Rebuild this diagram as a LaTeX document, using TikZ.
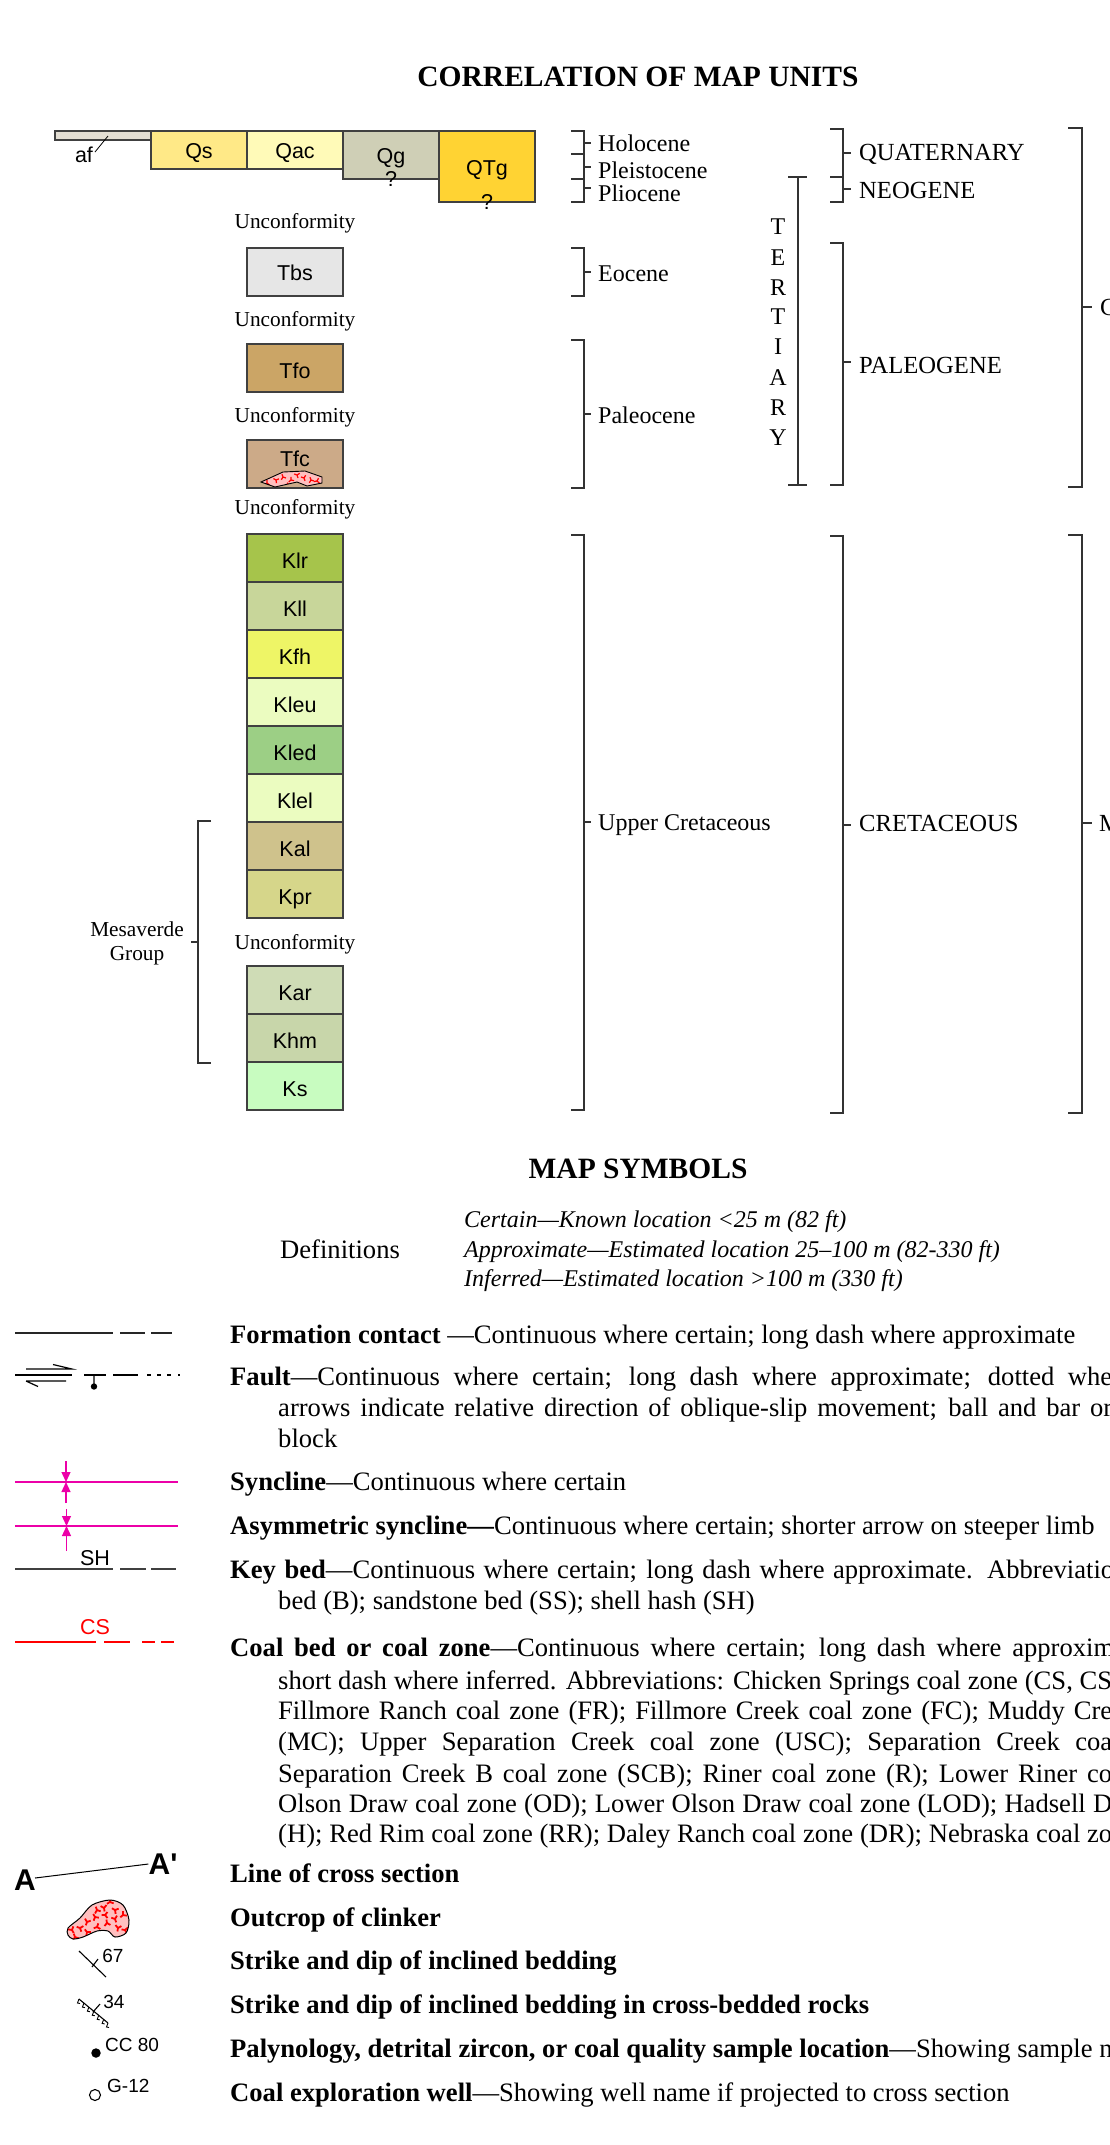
\documentclass[tikz,border=0pt]{standalone}
\usepackage{fontspec}
\setmainfont{Liberation Serif}
\newfontfamily\arialfont{Liberation Sans}
\usetikzlibrary{arrows.meta,calc}
\definecolor{af}{HTML}{E3DED3}
\definecolor{Qs}{HTML}{FFE987}
\definecolor{Qac}{HTML}{FFFAB8}
\definecolor{Qg}{HTML}{CFCFB6}
\definecolor{QTg}{HTML}{FFD333}
\definecolor{Tbs}{HTML}{E6E6E6}
\definecolor{Tfo}{HTML}{CBA566}
\definecolor{Tfc}{HTML}{CCAA88}
\definecolor{Klr}{HTML}{A6C44B}
\definecolor{Kll}{HTML}{C8D69A}
\definecolor{Kfh}{HTML}{EEF566}
\definecolor{Kleu}{HTML}{EBFCC0}
\definecolor{Kled}{HTML}{9CCF85}
\definecolor{Klel}{HTML}{EBFCC0}
\definecolor{Kal}{HTML}{CFC28C}
\definecolor{Kpr}{HTML}{D6D68A}
\definecolor{Kar}{HTML}{CFDCB6}
\definecolor{Khm}{HTML}{C8D6AA}
\definecolor{Ks}{HTML}{C8FCC0}
\definecolor{foldpink}{HTML}{EC00A8}
\definecolor{clinkerpink}{HTML}{FFBFBF}
\newcommand{\fitline}[2]{\makebox[#1pt][s]{#2}}
\tikzset{
  unitbox/.style={draw=black!75,line width=1.1pt,minimum width=96pt,inner sep=0pt,text height=20pt,text depth=0pt,font=\arialfont\fontsize{21.5}{24}\selectfont},
  toprow/.style={unitbox,text height=17pt},
  unitlabel/.style={inner sep=0pt,font=\arialfont\fontsize{21.5}{24}\selectfont},
  maplabel/.style={inner sep=0pt,anchor=west,font=\arialfont\fontsize{19}{21}\selectfont},
  serifsmall/.style={inner sep=0pt,font=\fontsize{21.3}{24}\selectfont},
  agetext/.style={inner sep=0pt,anchor=mid west,yshift=-6.5pt,font=\fontsize{24}{28}\selectfont},
  periodtext/.style={agetext,font=\fontsize{24.6}{28}\selectfont},
  maintitle/.style={inner sep=0pt,font=\bfseries\fontsize{29.5}{32}\selectfont},
  deftext/.style={inner sep=0pt,anchor=mid west,yshift=-5.5pt,font=\itshape\fontsize{24}{28}\selectfont},
  bodyline/.style={inner sep=0pt,anchor=mid west,yshift=-6.5pt,font=\fontsize{26.6}{30}\selectfont},
  bracket/.style={black!80,line width=1.2pt},
  contact/.style={black!85,line width=1.1pt},
  foldline/.style={foldpink,line width=1.5pt},
  foldarrow/.style={foldpink,line width=1.3pt,-{Triangle[length=10pt,width=9pt]}},
  coalline/.style={red,line width=2.4pt},
  clinkermark/.style={red,line width=1.4pt}
}
\begin{document}
\begin{tikzpicture}[x=1pt,y=-1pt]
\useasboundingbox (0,0) rectangle (1110,2145);
%titles
\node[maintitle] (corrtitle) at (638,77) {CORRELATION OF MAP UNITS};
\node[maintitle] (symtitle) at (638,1169) {MAP SYMBOLS};
%top row of units
\node[unitbox,fill=af,minimum width=96pt,minimum height=9pt,text height=0pt] (afbox) at (103,135.5) {};
\node[toprow,fill=Qs,minimum height=38pt] (Qs) at (199,150) {Qs};
\node[toprow,fill=Qac,minimum height=38pt] (Qac) at (295,150) {Qac};
\node[toprow,fill=Qg,minimum height=48pt] (Qg) at (391,155) {Qg};
\node[toprow,fill=QTg,minimum height=71pt] (QTg) at (487,166.5) {QTg};
\node[unitlabel] (aflabel) at (84,155) {af};
\coordinate (afhook) at (108,136);
\draw[black,line width=0.8pt] (95,152) -- (afhook);
\node[unitlabel] (Qgq) at (391,179) {?};
\node[unitlabel] (QTgq) at (487,202) {?};
%tertiary and cretaceous units
\node[toprow,fill=Tbs,minimum height=48pt] (Tbs) at (295,272) {Tbs};
\foreach \name/\yy in {Tfo/368,Klr/558,Kll/606,Kfh/654,Kleu/702,Kled/750,Klel/798,Kal/846,Kpr/894,Kar/990,Khm/1038,Ks/1086}
  \node[unitbox,fill=\name,minimum height=48pt] (\name) at (295,\yy) {\name};
\node[unitbox,fill=Tfc,minimum height=48pt,text height=0pt] (Tfc) at (295,464) {};
\node[unitlabel] (Tfclabel) at (295,459) {Tfc};
%clinker inside Tfc
\begin{scope}
\path[clip] (261,482) -- (283,472) -- (305,471) -- (322,477) -- (322,483) -- (307,486) -- (297,482) -- (275,487) -- cycle;
\fill[clinkerpink] (255,465) rectangle (328,490);
\foreach \a/\b/\c in {267/483/0,276/480/60,283/477/20,291/480/130,297/475/70,304/478/200,311/480/20,317/481/100,289/485/40}
  \draw[clinkermark,line width=1.2pt,shift={(\a,\b)},rotate=\c] (0,0) -- (0,-3) (0,0) -- (2.5,2) (0,0) -- (-2.5,2);
\end{scope}
\draw[black,line width=0.9pt] (261,482) -- (283,472) -- (305,471) -- (322,477) -- (322,483) -- (307,486) -- (297,482) -- (275,487) -- cycle;
%unconformities
\foreach \yy/\nn in {223/a,321/b,417/c,509/d,944/e}
  \node[serifsmall] (unconf\nn) at (295,\yy) {Unconformity};
%mesaverde group
\draw[bracket] (211,821) -- (198,821) -- (198,1063) -- (211,1063) (198,942) -- (191,942);
\node[serifsmall,align=center] (mesaverde) at (137,943.5) {Mesaverde\\Group};
%epoch brackets
\foreach \yt/\yb/\ym in {131/154/143,154/179/167,179/202/188,248/296/272,340/488/414,535/1110/822}
  \draw[bracket] (571,\yt) -- (584,\yt) -- (584,\yb) -- (571,\yb) (584,\ym) -- (591,\ym);
\node[agetext] (holocene) at (598,143) {Holocene};
\node[agetext] (pleistocene) at (598,170) {Pleistocene};
\node[agetext] (pliocene) at (598,193) {Pliocene};
\node[agetext] (eocene) at (598,273) {Eocene};
\node[agetext] (paleocene) at (598,415) {Paleocene};
\node[agetext] (uppercret) at (598,822) {Upper Cretaceous};
%tertiary
\draw[bracket] (788,177) -- (807,177) (798,177) -- (798,485) (788,485) -- (807,485);
\foreach \ch/\yy/\nn in {T/226/a,E/257/b,R/287/c,T/316/d,I/346/e,A/377/f,R/407/g,Y/437/h}
  \node[agetext,anchor=mid] (tert\nn) at (778,\yy) {\ch};
%period brackets
\foreach \yt/\yb/\ym in {129/177/153,177/202/189,243/485/362,536/1113/825}
  \draw[bracket] (830,\yt) -- (843,\yt) -- (843,\yb) -- (830,\yb) (843,\ym) -- (851,\ym);
\node[periodtext] (quaternary) at (859,152) {QUATERNARY};
\node[periodtext] (neogene) at (859,190) {NEOGENE};
\node[periodtext] (paleogene) at (859,365) {PALEOGENE};
\node[periodtext] (cretaceous) at (859,823) {CRETACEOUS};
%era brackets
\foreach \yt/\yb/\ym in {128/487/307,535/1113/823}
  \draw[bracket] (1068,\yt) -- (1082,\yt) -- (1082,\yb) -- (1068,\yb) (1082,\ym) -- (1092,\ym);
\node[periodtext] (cenozoic) at (1100,307) {C};
\node[periodtext] (mesozoic) at (1099,823) {M};
%definitions
\node[agetext,font=\fontsize{26.6}{30}\selectfont] (definitions) at (280,1250) {Definitions};
\node[deftext] (certain) at (464,1219.5) {Certain---Known location <25 m (82 ft)};
\node[deftext] (approx) at (464,1250) {Approximate---Estimated location 25--100 m (82-330 ft)};
\node[deftext] (inferred) at (464,1279) {Inferred---Estimated location >100 m (330 ft)};
%explanation text
\node[bodyline] (formtext) at (230,1334.5) {\textbf{Formation contact} ---Continuous where certain; long dash where approximate};
\node[bodyline] (faulta) at (230,1377) {\fitline{882}{\textbf{Fault}---Continuous where certain; long dash where approximate; dotted whe}};
\node[bodyline] (faultb) at (278,1408) {\fitline{834}{arrows indicate relative direction of oblique-slip movement; ball and bar or}};
\node[bodyline] (faultc) at (278,1438.5) {block};
\node[bodyline] (synctext) at (230,1482) {\textbf{Syncline}---Continuous where certain};
\node[bodyline] (asymtext) at (230,1526) {\textbf{Asymmetric syncline---}Continuous where certain; shorter arrow on steeper limb};
\node[bodyline] (keya) at (230,1570) {\fitline{884}{\textbf{Key bed}---Continuous where certain; long dash where approximate. Abbreviatio}};
\node[bodyline] (keyb) at (278,1601) {bed (B); sandstone bed (SS); shell hash (SH)};
\node[bodyline] (coala) at (230,1648) {\fitline{884}{\textbf{Coal bed or coal zone}---Continuous where certain; long dash where approxim}};
\node[bodyline] (coalb) at (278,1681) {\fitline{834}{short dash where inferred. Abbreviations: Chicken Springs coal zone (CS, CS}};
\node[bodyline] (coalc) at (278,1711) {\fitline{834}{Fillmore Ranch coal zone (FR); Fillmore Creek coal zone (FC); Muddy Cre}};
\node[bodyline] (coald) at (278,1742) {\fitline{834}{(MC); Upper Separation Creek coal zone (USC); Separation Creek coa}};
\node[bodyline] (coale) at (278,1774) {\fitline{834}{Separation Creek B coal zone (SCB); Riner coal zone (R); Lower Riner co}};
\node[bodyline] (coalf) at (278,1804) {\fitline{834}{Olson Draw coal zone (OD); Lower Olson Draw coal zone (LOD); Hadsell D}};
\node[bodyline] (coalg) at (278,1834) {\fitline{834}{(H); Red Rim coal zone (RR); Daley Ranch coal zone (DR); Nebraska coal zo}};
\node[bodyline] (linetext) at (230,1874) {\textbf{Line of cross section}};
\node[bodyline] (clinktext) at (230,1917.5) {\textbf{Outcrop of clinker}};
\node[bodyline] (striketext) at (230,1961) {\textbf{Strike and dip of inclined bedding}};
\node[bodyline] (crosstext) at (230,2005) {\textbf{Strike and dip of inclined bedding in cross-bedded rocks}};
\node[bodyline] (sampletext) at (230,2049) {\textbf{Palynology, detrital zircon, or coal quality sample location}---Showing sample n};
\node[bodyline] (welltext) at (230,2093) {\textbf{Coal exploration well}---Showing well name if projected to cross section};
%formation contact symbol
\draw[contact] (15,1333) -- (113,1333) (120,1333) -- (145,1333) (151,1333) -- (172,1333);
%fault symbol
\draw[black,line width=2.6pt] (15,1375) -- (72,1375) (84,1375) -- (106,1375) (113,1375) -- (138,1375);
\draw[black,line width=1.2pt] (26,1369) -- (72,1369) -- (53,1364.5) (26,1381) -- (66,1381) (26,1381) -- (38,1386.5) (94,1375) -- (94,1386);
\fill[black] (94,1386.5) circle (3.2);
\draw[black,line width=2.8pt] (147,1375) -- (151,1375) (157,1375) -- (161,1375) (167,1375) -- (171,1375) (178,1375) -- (180,1375);
%fold symbols
\draw[foldline] (15,1482) -- (178,1482) (15,1526) -- (178,1526);
\draw[foldarrow] (66,1461) -- (66,1482);
\draw[foldarrow] (66,1503) -- (66,1482);
\draw[foldarrow] (66.5,1509) -- (66.5,1526);
\draw[foldarrow] (66.5,1551) -- (66.5,1526);
%key bed symbol
\draw[contact,black!75] (15,1569) -- (113,1569) (120,1569) -- (146,1569) (151,1569) -- (176,1569);
\node[maplabel,anchor=center,font=\arialfont\fontsize{21.5}{24}\selectfont] (shlabel) at (95,1558) {SH};
%coal symbol
\draw[coalline] (15,1642) -- (96,1642) (104,1642) -- (130,1642) (142,1642) -- (155,1642) (161,1642) -- (174,1642);
\node[maplabel,anchor=center,red,font=\arialfont\fontsize{21.5}{24}\selectfont] (cslabel) at (95,1627) {CS};
%cross section
\node[inner sep=0pt,font=\arialfont\bfseries\fontsize{30}{32}\selectfont] (secA) at (25,1880) {A};
\node[inner sep=0pt,font=\arialfont\bfseries\fontsize{30}{32}\selectfont] (secB) at (163,1864) {A'};
\draw[black,line width=1pt] (secA.east) ++(-1,-2) -- (secB.west);
%clinker symbol
\begin{scope}
\path[clip,smooth cycle] plot coordinates {(68,1928) (80,1918) (92,1905) (110,1900) (123,1905) (129,1920) (126,1933) (115,1937) (108,1931) (97,1931) (83,1937) (73,1939) (68,1935)};
\fill[clinkerpink] (60,1895) rectangle (135,1945);
\foreach \a/\b/\c in {97/1910/20,104/1908/190,115/1910/60,123/1915/130,115/1919/200,105/1915/90,95/1917/30,87/1922/160,80/1928/70,72/1930/210,87/1932/40,97/1927/110,107/1923/10,118/1928/170,125/1930/80,75/1937/20,110/1902/120}
  \draw[clinkermark,line width=1.8pt,shift={(\a,\b)},rotate=\c] (0,0) -- (0,-3.5) (0,0) -- (3,2.5) (0,0) -- (-3,2.5);
\end{scope}
\draw[black,line width=1pt,smooth cycle] plot coordinates {(68,1928) (80,1918) (92,1905) (110,1900) (123,1905) (129,1920) (126,1933) (115,1937) (108,1931) (97,1931) (83,1937) (73,1939) (68,1935)};
%strike and dip
\draw[black,line width=1.1pt] (79,1951) -- (106,1977) (92,1967) -- (98,1959);
\node[maplabel,anchor=center] (dipa) at (113,1956) {67};
\draw[black,line width=1.1pt] (79,1999) -- (108,2023) (93,2012) -- (100,2004);
\foreach \t in {0,0.17,0.34,0.51,0.68,0.85,1}
  \draw[black,line width=0.9pt,shift={($(79,1999)!\t!(108,2023)$)}] (0,0) -- (-1.5,4) -- (1,4.5);
\node[maplabel,anchor=center] (dipb) at (114,2002) {34};
%sample and well
\node[circle,fill=black,inner sep=0pt,minimum size=9.5pt] (sampledot) at (96,2053) {};
\node[maplabel] (samplelabel) at (105,2045) {CC 80};
\node[circle,draw=black,line width=1.1pt,inner sep=0pt,minimum size=11pt] (wellring) at (95,2095) {};
\node[maplabel] (welllabel) at (107,2086) {G-12};
\end{tikzpicture}
\end{document}
